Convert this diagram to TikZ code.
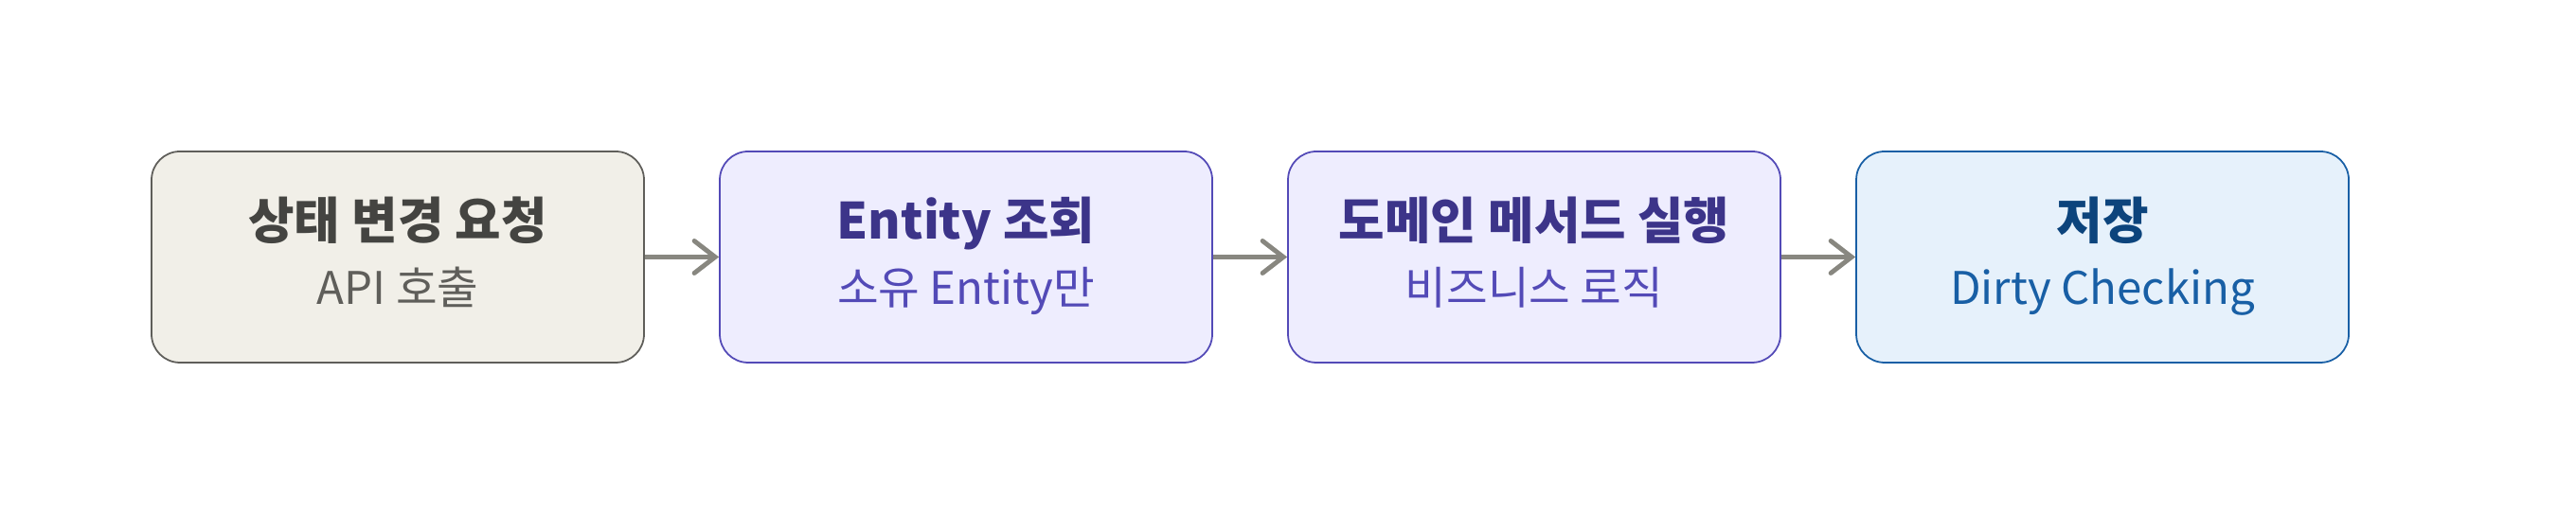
\documentclass[tikz,border=0pt]{standalone}
\usepackage{fontspec}
\setmainfont{Noto Sans CJK KR}
\usetikzlibrary{arrows.meta}
\definecolor{grayfill}{HTML}{F1EFE8}
\definecolor{grayline}{HTML}{5F5E5A}
\definecolor{graytext}{HTML}{444441}
\definecolor{purpfill}{HTML}{EEEDFE}
\definecolor{purpline}{HTML}{534AB7}
\definecolor{purptext}{HTML}{3C3489}
\definecolor{bluefill}{HTML}{E6F1FB}
\definecolor{blueline}{HTML}{185FA5}
\definecolor{bluetext}{HTML}{0C447C}
\definecolor{arrowgray}{HTML}{888780}
\begin{document}
\begin{tikzpicture}[>={Straight Barb[length=2.2mm,width=3.4mm,line cap=round]},
  box/.style={draw, line width=.5pt, rounded corners=3mm, minimum width=5.2cm, minimum height=2.23cm, inner sep=0pt},
  head/.style={anchor=base, font=\fontsize{15pt}{18pt}\selectfont\bfseries},
  sub/.style={anchor=base, font=\fontsize{13.5pt}{16pt}\selectfont},
  flow/.style={->, arrowgray, line width=1.4pt}]
\useasboundingbox (0,0) rectangle (27.2,-5.44);
\node[box, fill=grayfill, draw=grayline] (req) at (4.2,-2.715) {};
\node[box, fill=purpfill, draw=purpline] (load) at (10.2,-2.715) {};
\node[box, fill=purpfill, draw=purpline] (exec) at (16.2,-2.715) {};
\node[box, fill=bluefill, draw=blueline] (save) at (22.2,-2.715) {};
\node[head, graytext] (reqh) at ([yshift=.185cm]req.center) {상태 변경 요청};
\node[sub, grayline] (reqs) at ([yshift=-.505cm]req.center) {API 호출};
\node[head, purptext] (loadh) at ([yshift=.185cm]load.center) {Entity 조회};
\node[sub, purpline] (loads) at ([yshift=-.505cm]load.center) {소유 Entity만};
\node[head, purptext] (exech) at ([yshift=.185cm]exec.center) {도메인 메서드 실행};
\node[sub, purpline] (execs) at ([yshift=-.505cm]exec.center) {비즈니스 로직};
\node[head, bluetext] (saveh) at ([yshift=.185cm]save.center) {저장};
\node[sub, blueline] (saves) at ([yshift=-.505cm]save.center) {Dirty Checking};
\draw[flow] (req) -- (load);
\draw[flow] (load) -- (exec);
\draw[flow] (exec) -- (save);
\end{tikzpicture}
\end{document}
